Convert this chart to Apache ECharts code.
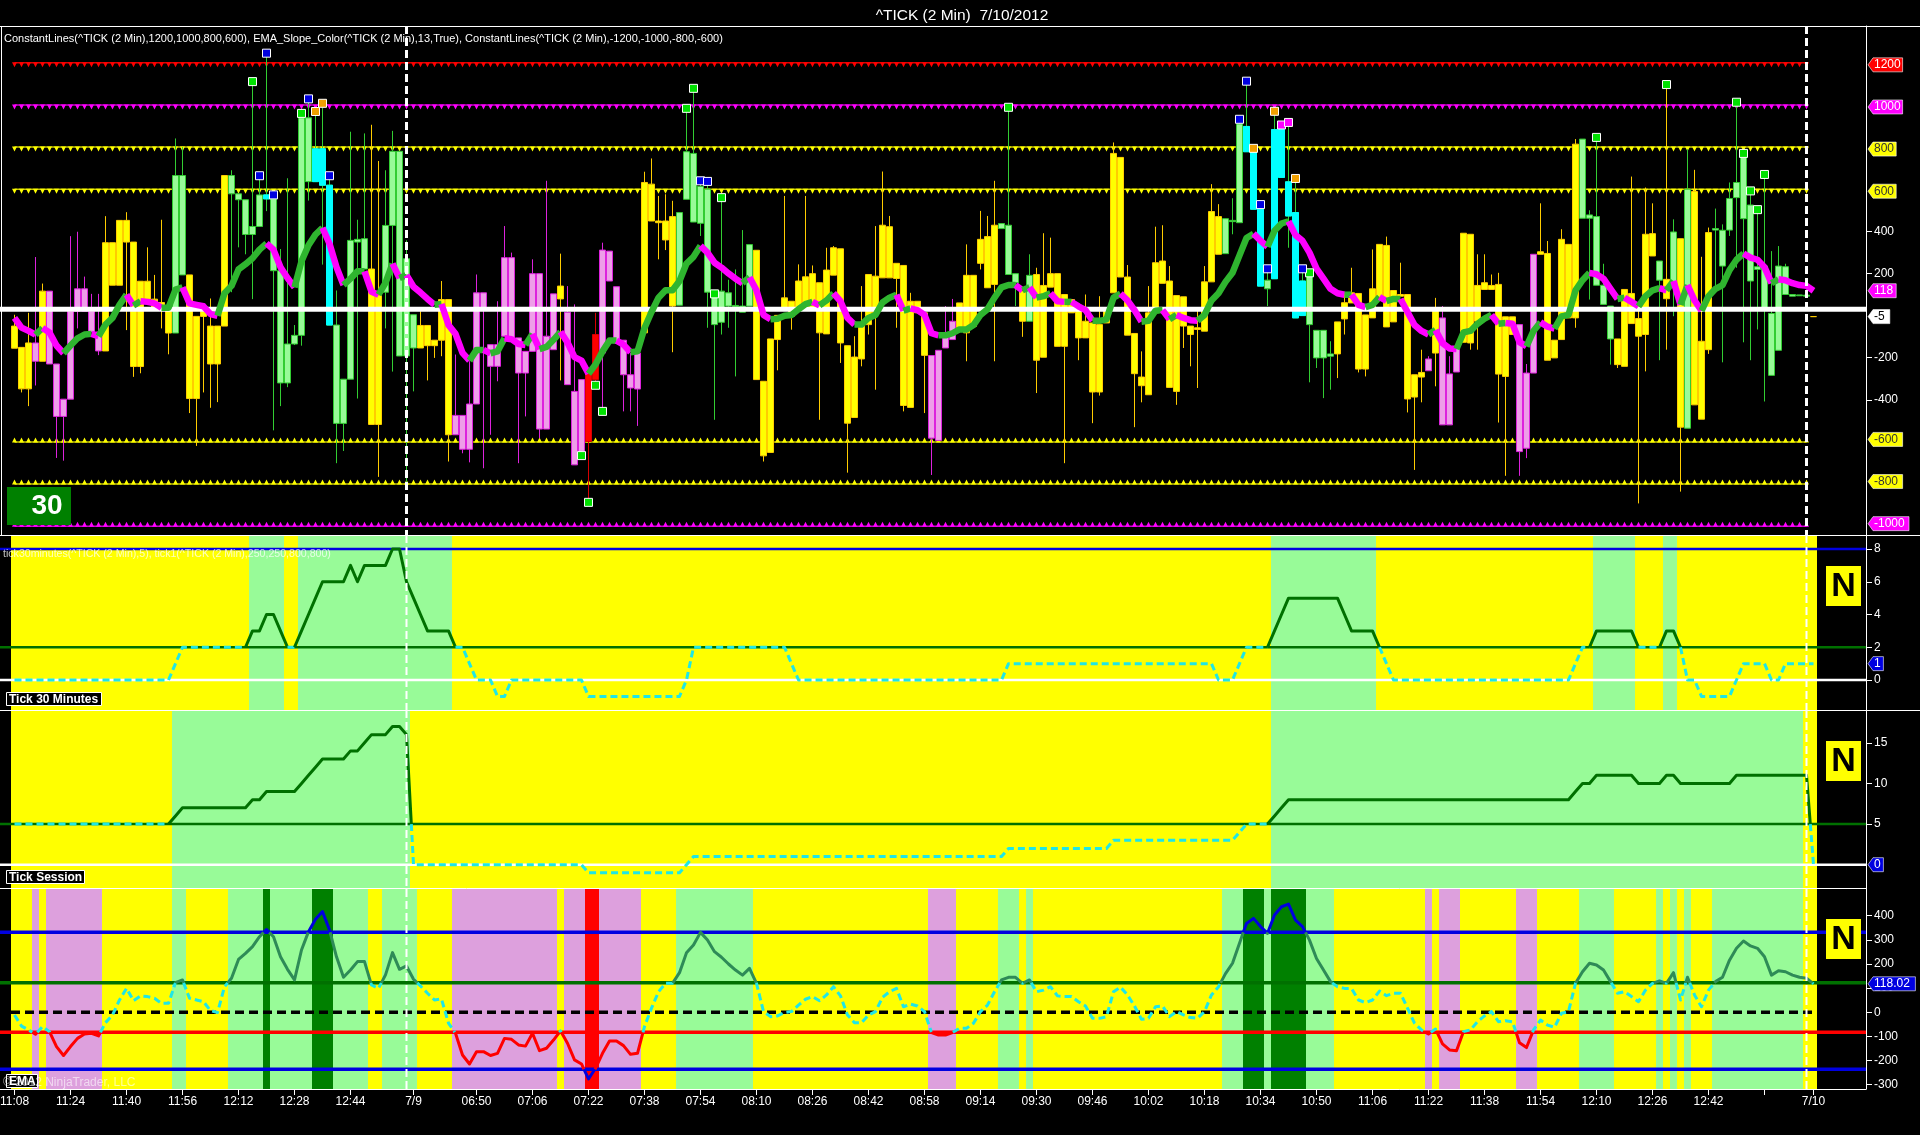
<!DOCTYPE html>
<html><head><meta charset="utf-8">
<style>html,body{margin:0;padding:0;background:#000}#c{width:1920px;height:1135px}</style>
<script src="https://cdn.jsdelivr.net/npm/echarts@6/dist/echarts.min.js"></script>
</head><body><div id="c"></div>
<script>
const titleText = '^TICK (2 Min)  7/10/2012';
const tickBars = [0,8,16,24,32,40,48,57,66,74,82,90,98,106,114,122,130,138,146,154,162,170,178,186,194,202,210,218,226,234,242,250,257];
const tickLabels = ['11:08','11:24','11:40','11:56','12:12','12:28','12:44','7/9','06:50','07:06','07:22','07:38','07:54','08:10','08:26','08:42','08:58','09:14','09:30','09:46','10:02','10:18','10:34','10:50','11:06','11:22','11:38','11:54','12:10','12:26','12:42','','7/10'];
const sessionBreaks = [56,256];

// candle colour kind per bar: Y yellow, G light green, C cyan, P plum, R red
const candleKinds = ('YYYPYPPPPP PPPYYYYYYY YYYGGYYYYY YGGGGGCGGG GGGCCCGGGG GYYGGGGGYY YYYPPPPPPP PPPPPPPPYP PPRRPPPPPP YYYYYGGGGG GGGGGGYYYY YYYYYYYYYY YYYYYYYYYY YPPPPYYYYY YGGGYGYYYY YYYYYYYYYY YYYYYYYYYY YYYGGGCCCG CCCCCGGGGY YYYYYYYYYY YYPYPPPYYY YYYYYPPPYY YYYYGGGGGY YYYYYGYGYG YYYGGGGGGG GGGGGGGY').replace(/ /g,'').split('');
const candleTop = [
-50,-151,-130,-130,116,116,-230,-397,21,127,
127,21,-78,346,346,452,452,349,163,163,
78,62,29,665,665,193,-4,21,-50,-50,
665,665,578,550,423,573,573,554,213,-135,
-94,939,939,792,792,619,-45,-302,357,362,
365,221,95,428,780,780,270,4,-47,-47,
-117,76,76,-474,-474,-420,108,108,-138,-138,
275,275,-106,-170,199,199,-98,103,140,16,
-360,-304,-273,-90,311,306,137,-117,-281,-178,
632,624,449,449,470,489,778,770,613,600,
108,116,108,48,45,337,310,-312,-111,1,
84,68,164,184,199,156,216,322,317,-143,
-197,-43,195,187,429,422,248,238,68,68,
13,-190,-165,-82,-27,60,191,191,362,375,
429,437,429,199,116,191,195,143,199,199,
100,76,45,-27,-35,-43,29,770,751,183,
-85,-292,13,251,259,164,95,89,-50,-58,
160,494,470,460,452,910,898,790,505,168,
883,883,635,489,164,187,-70,-70,-182,-30,
61,108,105,3,127,338,333,119,100,100,
-281,-270,-206,32,-11,-277,-154,391,386,143,
156,143,148,-6,-6,-43,-273,291,303,295,
-117,362,338,814,838,478,470,144,45,-111,
124,105,-14,386,389,259,172,397,365,600,
589,-122,394,413,405,556,632,751,525,232,
235,10,235,232,100,98,97,-5];
const candleBottom = [
-155,-348,-348,-217,-217,-230,-479,-479,-397,21,
21,-78,-168,-168,144,144,349,-242,-242,78,
37,29,-83,-83,193,-394,-394,-4,-230,-230,
-50,578,550,385,385,423,554,213,-320,-320,
-135,-94,636,636,619,-45,-512,-512,-302,349,
221,-517,-517,111,428,-192,-192,-154,-154,-143,
-143,-117,-566,-566,-635,-635,-420,29,-241,-241,
-98,-106,-273,-273,-170,-539,-539,-162,79,-328,
-709,-646,-598,-304,-178,164,-130,-281,-344,-349,
-82,449,441,359,45,49,552,444,438,111,
-43,-32,45,42,16,45,-304,-666,-650,-114,
29,-3,29,29,29,-82,-87,192,-130,-511,
-484,-206,-43,13,179,179,176,-427,-436,13,
-189,-582,-593,-154,-114,-58,-82,-51,248,132,
148,413,195,156,-27,-27,-212,-198,135,-146,
-146,13,-106,-106,-363,-363,-35,108,183,-93,
-276,-333,-376,13,153,-341,-360,-50,-90,-66,
-74,160,291,294,446,441,778,505,140,127,
175,656,473,-11,0,-43,-201,-201,-193,-182,
-16,60,-254,-254,-11,84,-54,-30,92,-396,
-387,-292,-262,-178,-519,-519,-268,-127,-130,-27,
124,124,-278,-289,-90,-646,-630,-273,291,-212,
-201,-114,-11,-11,462,462,144,53,-111,-233,
-241,-38,-98,-90,283,168,80,156,-530,-535,
-424,-492,-162,406,235,406,560,460,164,219,
29,-284,-165,100,92,94,92,-5];
const candleHigh = [
4,-151,13,278,152,116,-230,-397,377,398,
185,103,103,472,346,452,491,349,163,324,
193,455,29,841,800,193,-4,21,81,-50,
665,690,578,550,1111,664,1246,573,316,652,
-45,960,1029,969,1008,664,119,-302,873,455,
865,906,734,690,877,780,357,4,21,-47,
-117,164,76,-185,-474,-217,195,108,-138,68,
425,299,-106,-170,267,199,640,103,294,140,
53,-304,-273,13,346,306,137,-117,-178,-178,
683,746,568,576,545,489,984,1079,640,637,
103,560,170,219,406,337,310,-312,-111,1,
568,68,243,568,238,156,322,330,317,-143,
-98,140,195,425,684,473,248,238,108,68,
13,-190,-165,45,79,60,338,191,497,473,
640,437,989,199,116,291,227,391,370,199,
100,76,45,100,-35,92,29,822,751,240,
-85,-170,140,422,429,235,95,89,-50,35,
235,624,529,460,557,932,1113,794,527,222,
970,905,917,651,222,203,-70,-70,-122,-30,
111,227,105,3,314,338,375,119,251,100,
-281,-162,-193,84,45,-193,-154,391,386,291,
291,195,203,-6,-6,-43,-230,291,533,354,
-117,410,338,838,838,500,846,246,45,-111,
124,660,60,608,533,259,1097,457,365,790,
692,279,418,508,433,632,1013,770,592,503,
670,306,330,246,100,98,97,-5];
const candleLow = [
-155,-365,-430,-332,-217,-230,-676,-689,-397,-61,
21,-78,-188,-168,144,144,-69,-291,-274,78,
37,-61,-184,-83,193,-463,-619,-365,-438,-411,
-50,111,324,291,78,423,496,-545,-430,-340,
-140,-143,546,636,242,-45,-701,-643,-302,-394,
221,-517,-766,-61,-266,-192,-791,-360,-154,-308,
-201,-193,-693,-566,-654,-697,-420,-725,-566,-312,
-98,-106,-701,-479,-170,-582,-539,-162,-308,-328,
-709,-665,-887,-331,-455,164,-130,-455,-455,-524,
-82,449,267,311,-174,49,552,444,378,-58,
-495,-90,-58,-289,16,45,-304,-693,-650,-260,
29,-67,29,29,29,-495,-87,192,-225,-746,
-484,-241,-90,-352,179,179,-58,-455,-436,13,
-463,-757,-593,-154,-114,-58,-217,-51,219,132,
-217,413,195,45,-101,-27,-368,-198,135,-146,
-701,13,-212,-106,-511,-380,-35,108,183,-93,
-530,-412,-376,13,153,-341,-424,-154,-241,-344,
-74,160,291,294,386,441,778,505,140,45,
175,656,322,-11,0,-317,-249,-392,-352,-297,
-90,60,-270,-289,-11,84,-54,-30,92,-460,
-733,-412,-262,-336,-519,-519,-268,-127,-162,-162,
124,124,-508,-761,-90,-761,-677,-273,291,-212,
-201,-114,-11,-58,462,76,144,53,-233,-249,
-241,-38,-892,-265,283,-212,-162,-3,-836,-535,
-424,-492,-182,124,-222,378,227,-127,-212,-66,
-408,-284,-165,100,92,94,92,-5];

const emaValues = [
-11,-57,-73,-91,-59,-80,-142,-179,-142,-108,
-90,-87,-98,-43,-11,51,99,48,68,65,
58,37,37,123,134,58,51,44,7,-1,
106,141,219,244,272,313,343,313,230,178,
134,258,334,385,417,341,230,145,175,210,
210,113,99,155,247,178,192,137,109,79,
51,55,-45,-87,-177,-214,-163,-163,-179,-170,
-108,-112,-135,-140,-87,-159,-149,-115,-77,-128,
-197,-214,-276,-232,-170,-119,-119,-138,-174,-170,
-59,17,85,120,120,164,247,279,331,299,
251,228,200,175,154,182,120,3,-18,-15,
-1,3,30,54,65,48,72,106,68,-11,
-43,-43,-11,3,62,85,99,23,34,26,
3,-84,-94,-94,-84,-66,-66,-45,3,30,
85,134,145,145,120,134,85,92,106,68,
65,65,44,26,-25,-25,-18,85,104,72,
26,-29,-25,23,26,-18,3,-11,-22,-25,
3,72,106,160,203,286,368,389,355,327,
403,437,448,382,355,299,223,175,127,106,
99,99,51,40,51,88,69,79,79,17,
-45,-73,-90,-69,-131,-156,-159,-80,-73,-39,
-15,3,-39,-35,-39,-126,-146,-73,-32,-53,
-62,-4,3,120,168,203,196,175,127,79,
85,65,44,92,120,130,120,164,51,145,
72,23,92,127,145,216,265,295,275,265,
230,154,172,168,154,145,141,118];
const tick30Values = [
0,0,0,0,0,0,0,0,0,0,
0,0,0,0,0,0,0,0,0,0,
0,0,0,1,2,2,2,2,2,2,
2,2,2,2,3,3,4,4,3,2,
2,3,4,5,6,6,6,6,7,6,
7,7,7,7,8,8,6,5,4,3,
3,3,3,2,2,1,0,0,0,-1,
-1,0,0,0,0,0,0,0,0,0,
0,0,-1,-1,-1,-1,-1,-1,-1,-1,
-1,-1,-1,-1,-1,-1,0,2,2,2,
2,2,2,2,2,2,2,2,2,2,
2,1,0,0,0,0,0,0,0,0,
0,0,0,0,0,0,0,0,0,0,
0,0,0,0,0,0,0,0,0,0,
0,0,1,1,1,1,1,1,1,1,
1,1,1,1,1,1,1,1,1,1,
1,1,1,1,1,1,1,1,1,1,
1,1,0,0,0,1,2,2,2,2,
3,4,5,5,5,5,5,5,5,5,
4,3,3,3,3,2,1,0,0,0,
0,0,0,0,0,0,0,0,0,0,
0,0,0,0,0,0,0,0,0,0,
0,0,0,1,2,2,3,3,3,3,
3,3,2,2,2,2,3,3,2,0,
0,-1,-1,-1,-1,-1,0,1,1,1,
1,0,0,1,1,1,1,1];
const tickSessionValues = [
5,5,5,5,5,5,5,5,5,5,
5,5,5,5,5,5,5,5,5,5,
5,5,5,6,7,7,7,7,7,7,
7,7,7,7,8,8,9,9,9,9,
9,10,11,12,13,13,13,13,14,14,
15,16,16,16,17,17,16,0,0,0,
0,0,0,0,0,0,0,0,0,0,
0,0,0,0,0,0,0,0,0,0,
0,0,-1,-1,-1,-1,-1,-1,-1,-1,
-1,-1,-1,-1,-1,-1,0,1,1,1,
1,1,1,1,1,1,1,1,1,1,
1,1,1,1,1,1,1,1,1,1,
1,1,1,1,1,1,1,1,1,1,
1,1,1,1,1,1,1,1,1,1,
1,1,2,2,2,2,2,2,2,2,
2,2,2,2,2,2,2,3,3,3,
3,3,3,3,3,3,3,3,3,3,
3,3,3,3,3,4,5,5,5,5,
6,7,8,8,8,8,8,8,8,8,
8,8,8,8,8,8,8,8,8,8,
8,8,8,8,8,8,8,8,8,8,
8,8,8,8,8,8,8,8,8,8,
8,8,8,9,10,10,11,11,11,11,
11,11,10,10,10,10,11,11,10,10,
10,10,10,10,10,10,11,11,11,11,
11,11,11,11,11,11,11,0];

// background state runs: [state, first bar, bar after last]
const tick30Bands = [['Y',0,34],['G',34,39],['Y',39,41],['G',41,63],['Y',63,180],['G',180,195],['Y',195,226],['G',226,232],['Y',232,236],['G',236,238],['Y',238,258]];
const sessionBands = [['Y',0,23],['G',23,57],['Y',57,180],['G',180,256],['Y',256,258]];
const emaBands = [['Y',0,3],['P',3,4],['Y',4,5],['P',5,13],['Y',13,23],['G',23,25],['Y',25,31],['G',31,36],['D',36,37],['G',37,43],['D',43,46],['G',46,51],['Y',51,53],['G',53,58],['Y',58,63],['P',63,78],['Y',78,79],['P',79,82],['R',82,84],['P',84,90],['Y',90,95],['G',95,106],['Y',106,131],['P',131,135],['Y',135,141],['G',141,144],['Y',144,145],['G',145,146],['Y',146,173],['G',173,176],['D',176,179],['G',179,180],['D',180,185],['G',185,189],['Y',189,202],['P',202,203],['Y',203,204],['P',204,207],['Y',207,215],['P',215,218],['Y',218,224],['G',224,229],['Y',229,235],['G',235,236],['Y',236,237],['G',237,238],['Y',238,239],['G',239,240],['Y',240,243],['G',243,256],['Y',256,258]];

// small square markers on the price panel
const greenMarkerBars = [34,41,81,82,83,84,96,97,100,101,142,185,226,236,246,247,248,249,250];
const greenMarkerVals = [1111,960,-665,-887,-331,-455,984,1079,103,560,989,203,846,1097,1013,770,592,503,670];
const blueMarkerBars = [35,36,37,42,45,98,99,175,176,178,179,184];
const blueMarkerVals = [664,1246,573,1029,664,640,637,932,1113,527,222,222];
const orangeMarkerBars = [43,44,177,180,183];
const orangeMarkerVals = [969,1008,794,970,651];
const magentaMarkerBars = [181,182];
const magentaMarkerVals = [905,917];

const priceLevels = [1200,1000,800,600,-600,-800,-1000];
const priceLevelLine = ['#e00000','#cc00cc','#c8c800','#c8c800','#c8c800','#c8c800','#cc00cc'];
const priceLevelMark = ['#ff0000','#ff00ff','#ffff00','#ffff00','#ffff00','#ffff00','#ff00ff'];
const whiteLevel = 30;
const tick30Lines = [[8,'#0000e0',2.5],[2,'#007000',2.5],[0,'#ffffff',2.5]];
const sessionLines = [[5,'#007000',2.5],[0,'#ffffff',2.5]];
const emaLevelUpper = 331, emaLevelMid = 122, emaLevelLow = -83, emaLevelBottom = -236;

const priceTicks = [400,200,-200,-400];
const tick30Ticks = [8,6,4,2,0];
const sessionTicks = [15,10,5];
const emaTicks = [400,300,200,100,0,-100,-200,-300];

const priceTags = [[1200,'1200','#ff0000','#fff'],[1000,'1000','#ff00ff','#fff'],[800,'800','#ffff00','#333'],[600,'600','#ffff00','#333'],[-600,'-600','#ffff00','#333'],[-800,'-800','#ffff00','#333'],[-1000,'-1000','#ff00ff','#fff'],[118,'118','#ff00ff','#fff'],[-5,'-5','#ffffff','#000']];
const tick30Tags = [[1,'1','#0000e0','#fff']];
const sessionTags = [[0,'0','#0000e0','#fff']];
const emaTags = [[118,'118.02','#0000e0','#fff']];

const OFFSET = 2, TRAIL = 7;
const FONT = '"Liberation Sans", Arial, sans-serif';
const nBars = candleKinds.length;
const categories = [];
for (let c = 0; c < OFFSET + nBars + TRAIL; c++) categories.push('');
tickBars.forEach((b, k) => { categories[b + OFFSET] = tickLabels[k] || ' '; });
const tickSet = new Set(tickBars.map(b => b + OFFSET));

const bandColors = {Y:'#ffff00', G:'#98fb98', D:'#008000', P:'#dda0dd', R:'#ff0000'};
const candleFill = {Y:'#ffff00', G:'#98fb98', C:'#00ffff', P:'#ee9ee8', R:'#ff0000'};
const candleEdge = {Y:'#ffcc00', G:'#32cd32', C:'#32cd32', P:'#dd22dd', R:'#d80000'};

const grids = [
  {left:-3, width:1869, top:26, height:509, outerBoundsMode:'none'},
  {left:-3, width:1869, top:535, height:175, outerBoundsMode:'none'},
  {left:-3, width:1869, top:710, height:179, outerBoundsMode:'none'},
  {left:-3, width:1869, top:889, height:200, outerBoundsMode:'none'}
];
const xAxes = grids.map((g, i) => ({
  type:'category', gridIndex:i, data:categories, boundaryGap:true, show:i === 3, position:'bottom',
  axisLine:{show:true, onZero:false, lineStyle:{color:'#fff', width:1}},
  axisTick:{show:true, length:6, alignWithLabel:true, lineStyle:{color:'#fff'}, interval:(idx) => tickSet.has(idx)},
  axisLabel:{color:'#fff', fontFamily:FONT, fontSize:12, margin:7, interval:(idx) => tickSet.has(idx), hideOverlap:false},
  splitLine:{show:false}
}));
function yAxis(i, min, max, ticks) {
  return {
    type:'value', gridIndex:i, position:'right', min, max, scale:true,
    axisLine:{show:true, onZero:false, lineStyle:{color:'#fff', width:1}},
    axisTick:{show:true, length:6, inside:false, lineStyle:{color:'#fff'}, customValues:ticks},
    axisLabel:{show:true, color:'#fff', fontFamily:FONT, fontSize:12, margin:8, customValues:ticks},
    splitLine:{show:false}
  };
}
const yAxes = [yAxis(0,-1042,1375,priceTicks), yAxis(1,-1.832,8.855,tick30Ticks), yAxis(2,-2.99,19.03,sessionTicks), yAxis(3,-317.6,510.6,emaTicks)];

const series = [];
function customSeries(gridIdx, z, count, render) {
  const data = [];
  for (let i = 0; i < count; i++) data.push([i, 0]);
  series.push({type:'custom', coordinateSystem:'cartesian2d', xAxisIndex:gridIdx, yAxisIndex:gridIdx, z, silent:true, data, renderItem:render, encode:{x:0, y:1}, animation:false});
}
function addBands(gridIdx, runs) {
  customSeries(gridIdx, 1, runs.length, (p, api) => {
    const r = runs[p.dataIndex];
    const half = api.size([1, 0])[0] / 2;
    const x0 = api.coord([r[1] + OFFSET, 0])[0] - half;
    const x1 = api.coord([r[2] + OFFSET, 0])[0] - half;
    return {type:'rect', shape:{x:x0, y:p.coordSys.y, width:x1 - x0, height:p.coordSys.height}, style:{fill:bandColors[r[0]]}};
  });
}
function addHLines(gridIdx, z, lines) {
  customSeries(gridIdx, z, lines.length, (p, api) => {
    const l = lines[p.dataIndex];
    const y = api.coord([0, l[0]])[1];
    return {type:'line', shape:{x1:p.coordSys.x, y1:y, x2:p.coordSys.x + p.coordSys.width, y2:y}, style:{stroke:l[1], lineWidth:l[2], lineDash:l[3] || null}};
  });
}
function addSessionBreaks(gridIdx, z, width) {
  customSeries(gridIdx, z, sessionBreaks.length, (p, api) => {
    const x = api.coord([sessionBreaks[p.dataIndex] + OFFSET, 0])[0];
    return {type:'line', shape:{x1:x, y1:p.coordSys.y, x2:x, y2:p.coordSys.y + p.coordSys.height}, style:{stroke:'#fff', lineWidth:width, lineDash:[8,4]}};
  });
}
function addColouredLine(gridIdx, z, values, thresholds, classify, styles) {
  customSeries(gridIdx, z, 1, (p, api) => {
    const pts = values.map((v, i) => api.coord([i + OFFSET, v]));
    const children = [];
    let key = null, cur = null;
    for (let i = 0; i + 1 < values.length; i++) {
      const a = values[i], b = values[i + 1];
      const ts = thresholds.filter(t => (a - t) * (b - t) < 0).map(t => (t - a) / (b - a)).sort((m, n) => m - n);
      const stops = [0, ...ts, 1];
      for (let s = 0; s + 1 < stops.length; s++) {
        const t0 = stops[s], t1 = stops[s + 1];
        const k = classify(a + (b - a) * (t0 + t1) / 2, a, b);
        const P = t => [pts[i][0] + (pts[i + 1][0] - pts[i][0]) * t, pts[i][1] + (pts[i + 1][1] - pts[i][1]) * t];
        if (k !== key) {
          cur = [P(t0)];
          children.push({type:'polyline', shape:{points:cur}, style:Object.assign({fill:null, lineJoin:'round'}, styles[k])});
          key = k;
        }
        cur.push(P(t1));
      }
    }
    return {type:'group', children};
  });
}
function addTags(gridIdx, tags, nudge) {
  customSeries(gridIdx, 50, tags.length, (p, api) => {
    const t = tags[p.dataIndex];
    const y = api.coord([0, t[0]])[1] + nudge(t[0]);
    const xl = p.coordSys.x + p.coordSys.width + 2;
    const w = 9 + t[1].length * 6.4, h = 7;
    return {type:'group', children:[
      {type:'polygon', shape:{points:[[xl,y],[xl+5,y-h],[xl+w,y-h],[xl+w,y+h],[xl+5,y+h]]}, style:{fill:t[2], stroke:'#fff', lineWidth:0.6}},
      {type:'text', x:xl + 6, y:y, style:{text:t[1], fill:t[3], font:'12px ' + FONT, textAlign:'left', textVerticalAlign:'middle'}}
    ]};
  });
}
function pad(rows) { return new Array(OFFSET).fill(null).concat(rows); }

// ---- price panel
priceLevels.forEach((lv, k) => {
  const vals = [];
  for (let i = 0; i < nBars - 1; i++) vals.push(lv);
  series.push({type:'line', xAxisIndex:0, yAxisIndex:0, z:2, silent:true, data:pad(vals), showSymbol:true, showAllSymbol:true, symbol:'triangle', symbolSize:5, symbolRotate:lv > 0 ? 180 : 0, symbolOffset:[0, lv > 0 ? 2 : -2], lineStyle:{color:priceLevelLine[k], width:1.5}, itemStyle:{color:priceLevelMark[k]}, animation:false});
});
const candleData = pad(candleKinds.map((k, i) => ({
  value:[candleBottom[i], candleTop[i], candleLow[i], candleHigh[i]],
  itemStyle:{color:candleFill[k], color0:candleFill[k], borderColor:candleEdge[k], borderColor0:candleEdge[k], borderColorDoji:candleEdge[k], borderWidth:1}
}))).map(d => d === null ? {value:['-','-','-','-']} : d);
series.push({type:'candlestick', xAxisIndex:0, yAxisIndex:0, z:3, silent:true, barWidth:7, data:candleData, large:false, progressive:0, animation:false});
// cyan bodies have no visible edge, their wicks stay green: a second pass paints only the bodies
const cyanBodies = pad(candleKinds.map((k, i) => k === 'C' ? {value:[candleBottom[i], candleTop[i], candleBottom[i], candleTop[i]]} : {value:['-','-','-','-']})).map(d => d === null ? {value:['-','-','-','-']} : d);
series.push({type:'candlestick', xAxisIndex:0, yAxisIndex:0, z:4, silent:true, barWidth:7, data:cyanBodies, large:false, progressive:0, animation:false, itemStyle:{color:'#00ffff', color0:'#00ffff', borderColor:'#00ffff', borderColor0:'#00ffff', borderColorDoji:'#00ffff', borderWidth:1}});
[[greenMarkerBars,greenMarkerVals,'#00e000'],[blueMarkerBars,blueMarkerVals,'#0000e0'],[orangeMarkerBars,orangeMarkerVals,'#f0a000'],[magentaMarkerBars,magentaMarkerVals,'#ff00ff']].forEach(m => {
  series.push({type:'scatter', xAxisIndex:0, yAxisIndex:0, z:8, silent:true, symbol:'rect', symbolSize:8, itemStyle:{color:m[2], borderColor:'#fff', borderWidth:1, opacity:1}, data:m[0].map((b, i) => [b + OFFSET, m[1][i]]), animation:false});
});
addHLines(0, 5, [[whiteLevel,'#ffffff',5]]);
addColouredLine(0, 6, emaValues, [], (m, a, b) => b >= a ? 'up' : 'down', {
  up:{stroke:'#2fb52f', lineWidth:6.5}, down:{stroke:'#ff00ff', lineWidth:6.5}
});
addSessionBreaks(0, 7, 3);
addTags(0, priceTags, v => v > 200 && v !== 400 ? 2 : (v < -200 ? -2.5 : 0));

// ---- tick 30 minutes panel
const bandStyle = {green:{stroke:'#007000', lineWidth:3}, cyan:{stroke:'#1fe6e6', lineWidth:3, lineDash:[7,4]}};
addBands(1, tick30Bands);
addHLines(1, 2, tick30Lines);
addColouredLine(1, 3, tick30Values, [2], m => m > 2 ? 'green' : 'cyan', bandStyle);
addSessionBreaks(1, 4, 2);
addTags(1, tick30Tags, () => 0);

// ---- tick session panel
addBands(2, sessionBands);
addHLines(2, 2, sessionLines);
addColouredLine(2, 3, tickSessionValues, [5], m => m > 5 ? 'green' : 'cyan', bandStyle);
addSessionBreaks(2, 4, 2);
addTags(2, sessionTags, () => 0);

// ---- EMA panel
addBands(3, emaBands);
addHLines(3, 2, [[emaLevelUpper,'#0000e0',3.5],[emaLevelMid,'#007000',3.5],[0,'#000000',3.5,[9,5]],[emaLevelLow,'#ff0000',3.5],[emaLevelBottom,'#0000e0',3.5]]);
addColouredLine(3, 3, emaValues, [emaLevelUpper, emaLevelMid, emaLevelLow, emaLevelBottom],
  m => m > emaLevelUpper ? 'hi' : m > emaLevelMid ? 'sea' : m > emaLevelLow ? 'cy' : m > emaLevelBottom ? 'red' : 'hi', {
  hi:{stroke:'#0000e0', lineWidth:3}, sea:{stroke:'#2e8b57', lineWidth:3}, cy:{stroke:'#1fe6e6', lineWidth:3, lineDash:[7,4]}, red:{stroke:'#ff0000', lineWidth:3}
});
addSessionBreaks(3, 4, 2);
addTags(3, emaTags, () => 0);

// ---- frame, badges and captions
const gfx = [];
const Z = 60;
function hLine(x1, x2, y, w) { gfx.push({type:'line', z:Z, silent:true, shape:{x1, y1:y, x2, y2:y}, style:{stroke:'#fff', lineWidth:w || 1}}); }
hLine(0, 1920, 26.5); hLine(0, 1920, 535.5); hLine(0, 1920, 710.5); hLine(0, 1866, 888.5); hLine(0, 1866, 1089.5);
gfx.push({type:'line', z:Z, silent:true, shape:{x1:1.5, y1:26, x2:1.5, y2:535}, style:{stroke:'#fff', lineWidth:1}});
gfx.push({type:'line', z:Z, silent:true, shape:{x1:1866.5, y1:26, x2:1866.5, y2:1089}, style:{stroke:'#fff', lineWidth:1}});
function text(x, y, str, font, fill, align) {
  gfx.push({type:'text', z:Z + 2, silent:true, x, y, style:{text:str, font, fill, textAlign:align || 'left', textVerticalAlign:'middle'}});
}
function box(x, y, w, h, fill, stroke) {
  gfx.push({type:'rect', z:Z + 1, silent:true, shape:{x, y, width:w, height:h}, style:{fill, stroke:stroke || null, lineWidth:1}});
}
text(4, 38.5, 'ConstantLines(^TICK (2 Min),1200,1000,800,600), EMA_Slope_Color(^TICK (2 Min),13,True), ConstantLines(^TICK (2 Min),-1200,-1000,-800,-600)', '11px ' + FONT, '#fff');
box(7, 487, 64, 38, '#008000');
text(47, 506, '30', 'bold 28px ' + FONT, '#fff', 'center');
text(3, 554, 'tick30minutes(^TICK (2 Min),5), tick1(^TICK (2 Min),250,250,800,800)', '10.6px ' + FONT, 'rgba(255,255,255,0.75)');
box(6.5, 692.5, 95, 13, '#000', '#fff');
text(9, 699.5, 'Tick 30 Minutes', 'bold 12px ' + FONT, '#fff');
box(6.5, 870.5, 78, 13, '#000', '#fff');
text(9, 877.5, 'Tick Session', 'bold 12px ' + FONT, '#fff');
box(6.5, 1074.5, 31, 13, '#000', '#fff');
text(9, 1081.5, 'EMA', 'bold 12px ' + FONT, '#fff');
text(3, 1083, '\u00a9 2012 NinjaTrader, LLC', '12px ' + FONT, 'rgba(255,255,255,0.6)');
[566, 741, 919].forEach(y => {
  box(1826, y, 35, 40, '#ffff00');
  text(1843.5, y + 20.5, 'N', 'bold 34px ' + FONT, '#000', 'center');
});

const chart = echarts.init(document.getElementById('c'), null, {renderer:'canvas', width:1920, height:1135});
chart.setOption({
  backgroundColor:'#000',
  animation:false,
  title:{text:titleText, left:957, top:3, textAlign:'center', textStyle:{color:'#fff', fontFamily:FONT, fontSize:15.5, fontWeight:'normal'}},
  tooltip:{show:false},
  legend:{show:false},
  grid:grids, xAxis:xAxes, yAxis:yAxes, series, graphic:{elements:gfx}
});
</script></body></html>
